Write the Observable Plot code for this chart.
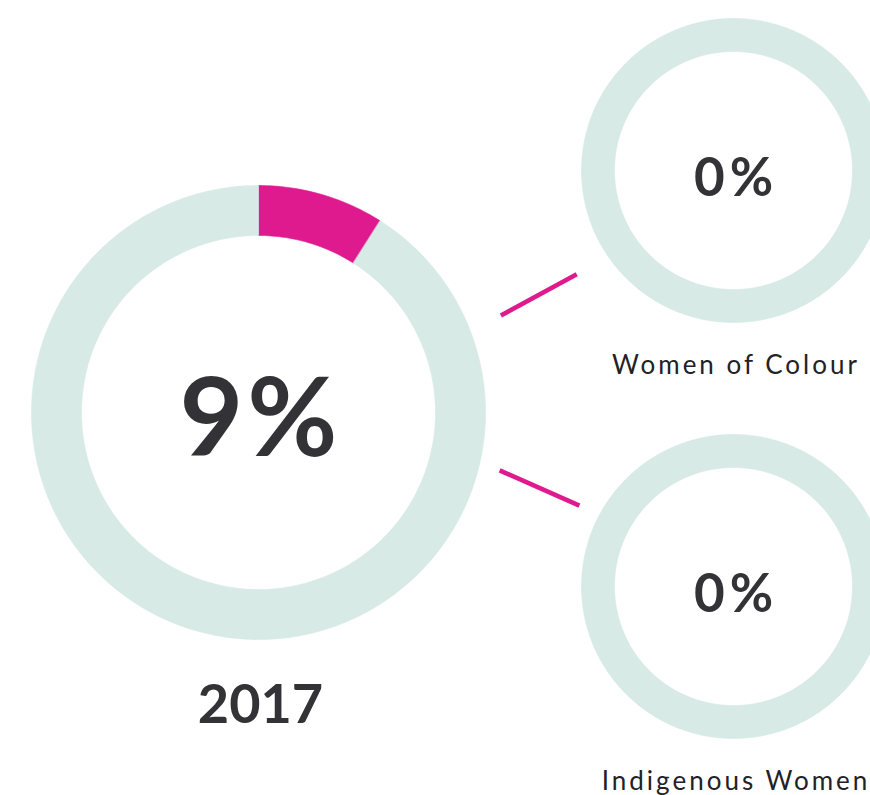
<!DOCTYPE html>
<html>
<head>
<meta charset="utf-8">
<script src="https://cdn.jsdelivr.net/npm/d3@7"></script>
<script src="https://cdn.jsdelivr.net/npm/@observablehq/plot@0.6"></script>
<style>
  html, body { margin: 0; padding: 0; background: #fff; overflow: hidden; }
</style>
</head>
<body>
<div id="chart"></div>
<script>
// ---- data ----
const mainYear = "2017";
const mainShare = 9;                       // percent
const groups = ["Women of Colour", "Indigenous Women"];
const groupShares = [0, 0];                // percent

// ---- layout / style ----
const W = 870, H = 795;
const PINK = "#DF1A8E", RING = "#D7EAE5", INK = "#333337";
const FONT = "Lato, 'Open Sans', sans-serif";
const layout = {
  main: {cx: 258, cy: 412, r0: 177, r1: 227},
  groups: [
    {cx: 733, cy: 170, r0: 119, r1: 152},
    {cx: 733, cy: 586, r0: 119, r1: 152}
  ],
  connectors: [
    {a0: -21.8, g0: 34, a1: 146.5, g1: 36},
    {a0: 13.5, g0: 21, a1: -152.3, g1: 22}
  ]
};

const pie = d3.pie().sort(null).value(d => d.value);
function slices(share, geo) {
  const parts = [{key: "share", value: share, color: PINK}, {key: "rest", value: 100 - share, color: RING}];
  return pie(parts).filter(s => s.endAngle - s.startAngle > 1e-6).map(s => {
    const n = Math.max(4, Math.ceil((s.endAngle - s.startAngle) / (Math.PI * 2) * 360));
    const pts = [];
    for (let i = 0; i <= n; i++) {
      const a = s.startAngle + (s.endAngle - s.startAngle) * i / n;
      pts.push({x: geo.cx + geo.r1 * Math.sin(a), y: geo.cy - geo.r1 * Math.cos(a)});
    }
    for (let i = n; i >= 0; i--) {
      const a = s.startAngle + (s.endAngle - s.startAngle) * i / n;
      pts.push({x: geo.cx + geo.r0 * Math.sin(a), y: geo.cy - geo.r0 * Math.cos(a)});
    }
    return {color: s.data.color, pts};
  });
}

const allSlices = [
  ...slices(mainShare, layout.main),
  ...groupShares.flatMap((v, i) => slices(v, layout.groups[i]))
];

const ringMarks = allSlices.map(s =>
  Plot.line(s.pts, {x: "x", y: "y", fill: s.color, stroke: s.color, strokeWidth: 0.6, curve: "linear-closed"})
);

const rad = d => d * Math.PI / 180;
const links = layout.connectors.map((c, i) => {
  const m = layout.main, g = layout.groups[i];
  return {
    x1: m.cx + (m.r1 + c.g0) * Math.cos(rad(c.a0)),
    y1: m.cy + (m.r1 + c.g0) * Math.sin(rad(c.a0)),
    x2: g.cx + (g.r1 + c.g1) * Math.cos(rad(c.a1)),
    y2: g.cy + (g.r1 + c.g1) * Math.sin(rad(c.a1))
  };
});

const mainText = [{x: layout.main.cx, y: layout.main.cy + 43, text: `${mainShare}%`}];
const yearText = [{x: layout.main.cx + 2, y: 722, text: mainYear}];
const valueText = groupShares.map((v, i) => ({x: layout.groups[i].cx, y: layout.groups[i].cy + 25, text: `${v}%`}));
const nameText = groups.map((g, i) => ({x: layout.groups[i].cx + 1, y: layout.groups[i].cy + 203, text: g}));

const chart = Plot.plot({
  width: W, height: H,
  margin: 0,
  x: {domain: [0, W], range: [0, W], axis: null},
  y: {domain: [0, H], range: [0, H], axis: null},
  style: {fontFamily: FONT, background: "#fff"},
  marks: [
    ...ringMarks,
    Plot.link(links, {x1: "x1", y1: "y1", x2: "x2", y2: "y2", stroke: PINK, strokeWidth: 4.5}),
    Plot.text(mainText, {x: "x", y: "y", text: "text", fontSize: 110, fontWeight: 700, fill: INK, lineAnchor: "bottom", textAnchor: "middle", dx: 2}),
    Plot.text(yearText, {x: "x", y: "y", text: "text", fontSize: 54, fontWeight: 700, fill: INK, lineAnchor: "bottom", textAnchor: "middle"}),
    Plot.text(valueText, {x: "x", y: "y", text: "text", fontSize: 53, fontWeight: 700, fill: INK, lineAnchor: "bottom", textAnchor: "middle", dx: 2.5}),
    Plot.text(nameText, {x: "x", y: "y", text: "text", fontSize: 26, fontWeight: 400, fill: "#222226", lineAnchor: "bottom", textAnchor: "middle", dx: 1.5})
  ]
});
const texts = d3.select(chart).selectAll("text");
texts.filter(function() { return this.textContent === `${mainShare}%`; }).style("letter-spacing", "4px");
texts.filter(function() { return groupShares.map(v => `${v}%`).includes(this.textContent); }).style("letter-spacing", "5px");
texts.filter(function() { return groups.includes(this.textContent); }).style("letter-spacing", "3px");
document.getElementById("chart").appendChild(chart);
</script>
</body>
</html>
